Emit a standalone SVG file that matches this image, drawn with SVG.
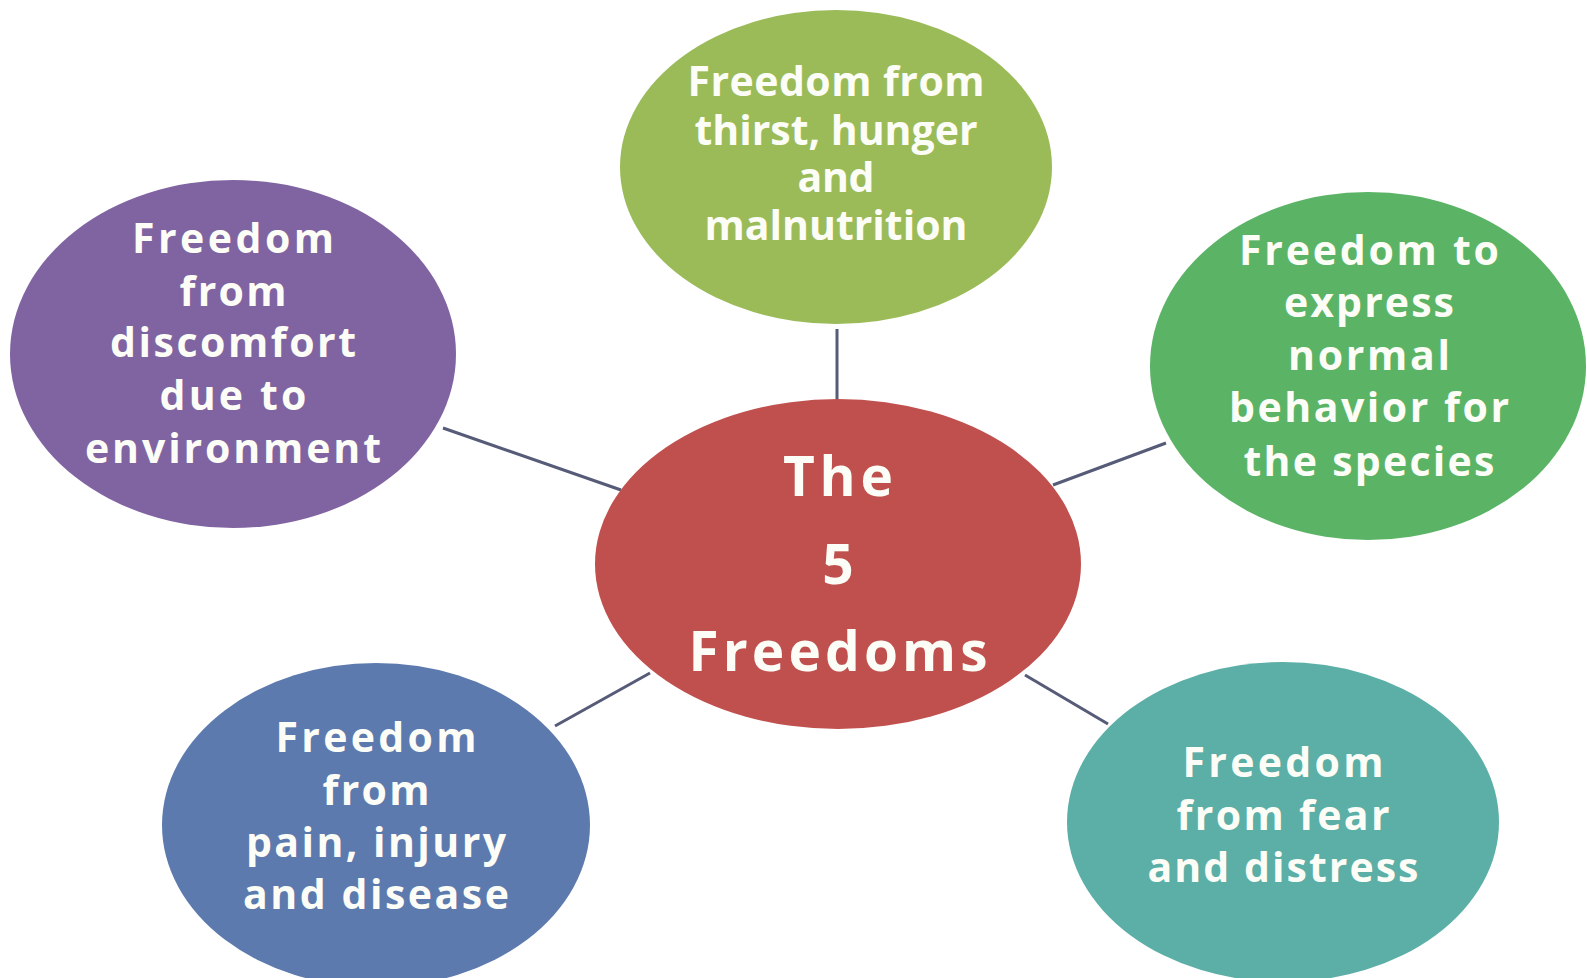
<svg xmlns="http://www.w3.org/2000/svg" width="1587" height="978" viewBox="0 0 1587 978">
<style>
.t{font-family:"Open Sans","Liberation Sans",sans-serif;font-weight:700;font-size:41px;fill:#fbfdf6;text-anchor:middle}
.c{font-size:55px}
.ln{stroke:#565b77;stroke-width:3;fill:none}
</style>
<rect width="1587" height="978" fill="#ffffff"/>
<g id="connectors">
<line class="ln" x1="837" y1="329" x2="837" y2="400"/>
<line class="ln" x1="443" y1="428" x2="621" y2="490"/>
<line class="ln" x1="1053" y1="485" x2="1166" y2="443"/>
<line class="ln" x1="555" y1="726" x2="650" y2="673"/>
<line class="ln" x1="1025" y1="675" x2="1108" y2="724"/>
</g>
<g id="n-top">
<ellipse cx="836" cy="167" rx="216" ry="157" fill="#9bbb59"/>
<text class="t" x="836" y="96" textLength="297" lengthAdjust="spacing">Freedom from</text>
<text class="t" x="836" y="145" textLength="283" lengthAdjust="spacing">thirst, hunger</text>
<text class="t" x="836" y="192" textLength="77" lengthAdjust="spacing">and</text>
<text class="t" x="836" y="240" textLength="263" lengthAdjust="spacing">malnutrition</text>
</g>
<g id="n-left">
<ellipse cx="233" cy="354" rx="223" ry="174" fill="#8064a2"/>
<text class="t" x="233" y="253" textLength="202" lengthAdjust="spacing">Freedom</text>
<text class="t" x="233" y="306" textLength="107" lengthAdjust="spacing">from</text>
<text class="t" x="233" y="357" textLength="246" lengthAdjust="spacing">discomfort</text>
<text class="t" x="233" y="410" textLength="147" lengthAdjust="spacing">due to</text>
<text class="t" x="233" y="463" textLength="296" lengthAdjust="spacing">environment</text>
</g>
<g id="n-right">
<ellipse cx="1368" cy="366" rx="218" ry="174" fill="#5bb466"/>
<text class="t" x="1369" y="265" textLength="260" lengthAdjust="spacing">Freedom to</text>
<text class="t" x="1369" y="317" textLength="170" lengthAdjust="spacing">express</text>
<text class="t" x="1369" y="370" textLength="162" lengthAdjust="spacing">normal</text>
<text class="t" x="1369" y="422" textLength="280" lengthAdjust="spacing">behavior for</text>
<text class="t" x="1369" y="476" textLength="251" lengthAdjust="spacing">the species</text>
</g>
<g id="n-center">
<ellipse cx="838" cy="564" rx="243" ry="165" fill="#c0504d"/>
<text class="t c" x="838" y="496" textLength="110" lengthAdjust="spacing">The</text>
<text class="t c" x="838" y="584">5</text>
<text class="t c" x="838" y="671" textLength="299" lengthAdjust="spacing">Freedoms</text>
</g>
<g id="n-bottom-left">
<ellipse cx="376" cy="825" rx="214" ry="162" fill="#5d7aae"/>
<text class="t" x="376" y="752" textLength="201" lengthAdjust="spacing">Freedom</text>
<text class="t" x="376" y="805" textLength="107" lengthAdjust="spacing">from</text>
<text class="t" x="376" y="857" textLength="260" lengthAdjust="spacing">pain, injury</text>
<text class="t" x="376" y="909" textLength="266" lengthAdjust="spacing">and disease</text>
</g>
<g id="n-bottom-right">
<ellipse cx="1283" cy="822" rx="216" ry="160" fill="#5bafa6"/>
<text class="t" x="1283" y="777" textLength="201" lengthAdjust="spacing">Freedom</text>
<text class="t" x="1283" y="830" textLength="213" lengthAdjust="spacing">from fear</text>
<text class="t" x="1283" y="882" textLength="271" lengthAdjust="spacing">and distress</text>
</g>
</svg>
